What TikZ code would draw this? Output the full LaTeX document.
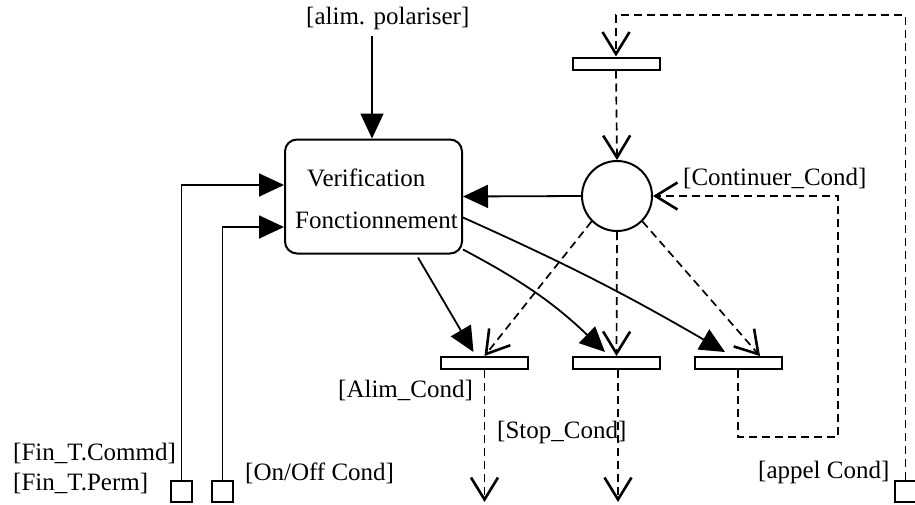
\documentclass[tikz,border=0pt]{standalone}
\usepackage{fontspec}
\setmainfont{Liberation Serif}
\usetikzlibrary{arrows.meta}
\begin{document}
\begin{tikzpicture}[x=1pt,y=-1pt,
  lbl/.style={inner sep=0pt, font=\fontsize{25}{28}\selectfont},
  solidarr/.style={draw, line width=1.8pt, -{Triangle[length=25pt,width=23pt]}},
  dasharr/.style={draw, line width=1.7pt, dash pattern=on 8pt off 5pt, -{Straight Barb[length=22pt,width=27pt,line width=2.6pt]}},
  barbox/.style={draw, line width=2pt, fill=white, minimum width=87pt, minimum height=12pt, inner sep=0pt},
  sq/.style={draw, line width=2pt, fill=white, minimum width=21pt, minimum height=21pt, inner sep=0pt},
  procbox/.style={draw, line width=2pt, rounded corners=12pt, minimum width=177pt, minimum height=114pt, inner sep=0pt},
  place/.style={draw, line width=2pt, circle, minimum size=70pt, inner sep=0pt}]
\useasboundingbox (0,0) rectangle (915,504);

% process box
\node[procbox] (vf) at (373.5,196.5) {};
\node[lbl, anchor=west] (t1) at (307,178) {Verification};
\node[lbl, anchor=west] (t2) at (295,220) {Fonctionnement};

% labels
\node[lbl, anchor=west] (alim) at (306,18) {[alim. polariser]};
\node[lbl, anchor=west] (lcommd) at (13,453) {[Fin\_T.Commd]};
\node[lbl, anchor=west] (lperm) at (13,483) {[Fin\_T.Perm]};
\node[lbl, anchor=west] (lonoff) at (245,473) {[On/Off Cond]};
\node[lbl, anchor=west] (lalim) at (338,390) {[Alim\_Cond]};
\node[lbl, anchor=west] (lstop) at (497,432) {[Stop\_Cond]};
\node[lbl, anchor=west] (lappel) at (758,472) {[appel Cond]};
\node[lbl, anchor=west] (lcont) at (683,178) {[Continuer\_Cond]};

% squares
\node[sq] (s1) at (181.5,491) {};
\node[sq] (s2) at (222.5,491) {};
\node[sq] (s3) at (905.5,491) {};

% place and transitions
\node[place] (c) at (617,196) {};
\node[barbox] (b0) at (616,63.5) {};
\node[barbox] (b1) at (484.5,363) {};
\node[barbox] (b2) at (616.5,363) {};
\node[barbox] (b3) at (738,363) {};

\coordinate (loop) at (616,15);
\coordinate (k1) at (838,437);
\coordinate (e1) at (484.5,502);
\coordinate (e2) at (618,502);

% solid arrows
\draw[solidarr] (vf.north |- alim.south) ++(-1.5,6) -- ([xshift=-1.5pt]vf.north);
\draw[solidarr] (s1.north) |- ([yshift=11.5pt]vf.west);
\draw[solidarr] (s2.north) |- ([yshift=-30.5pt]vf.west);
\draw[solidarr] (c.west) -- (vf.east);
\draw[solidarr] ([xshift=44.5pt,yshift=-3pt]vf.south) -- ([xshift=-11pt,yshift=4pt]b1.north);
\draw[solidarr] ([yshift=5pt]vf.south east) to[bend left=8] ([xshift=-11.5pt,yshift=4pt]b2.north);
\draw[solidarr] ([yshift=-21pt]vf.east) to[bend left=3] ([xshift=-13pt,yshift=4pt]b3.north);

% dashed arrows
\draw[dasharr] (s3.north) |- (loop) -- (b0.north);
\draw[dasharr] (b0.south) -- (c.north);
\draw[dasharr] (b3.south) |- (k1) |- (c.east);
\draw[dasharr] (c.225) -- (b1.north);
\draw[dasharr] (c.south) -- (b2.north);
\draw[dasharr] (c.315) -- ([xshift=22pt]b3.north);
\draw[dasharr] (b1.south) -- (e1);
\draw[dasharr] ([xshift=1.5pt]b2.south) -- (e2);
\end{tikzpicture}
\end{document}
